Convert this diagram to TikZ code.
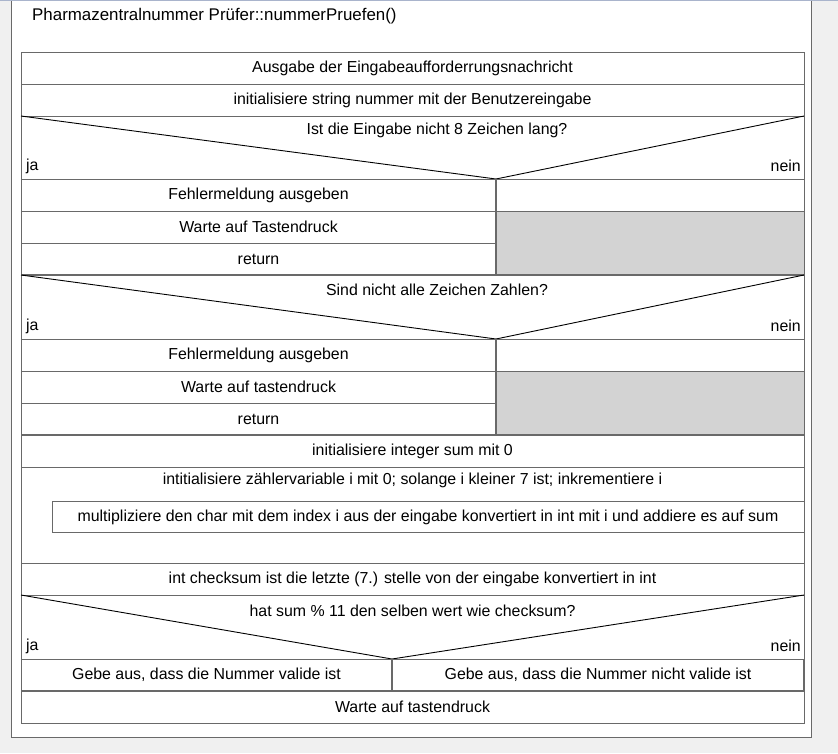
\documentclass[tikz,border=0pt]{standalone}
\usepackage{fontspec}
\setmainfont{Liberation Sans}
\begin{document}
\begin{tikzpicture}[x=1pt,y=-1pt,
  box/.style={draw=boxgray,line width=1pt},
  txt/.style={font=\fontsize{15.9}{18}\selectfont,inner sep=0pt,text=black},
  diag/.style={draw=black,line width=0.9pt},
  grayfill/.style={fill=cellgray,draw=boxgray,line width=1pt},
  split/.style={draw=boxgray,line width=1.8pt}]
\definecolor{boxgray}{HTML}{696969}
\definecolor{cellgray}{HTML}{D3D3D3}
\definecolor{bggray}{HTML}{F0F0F0}
\definecolor{topline}{HTML}{A9B4CC}
\useasboundingbox (0,0) rectangle (838,753);
\fill[bggray] (0,0) rectangle (838,753);
\fill[white] (11.5,0) rectangle (811,737);
\draw[box] (11.5,-2) -- (11.5,737) -- (811,737) -- (811,-2);
\draw[draw=topline,line width=1.5pt] (0,0.5) -- (838,0.5);
\node[txt,font=\fontsize{16.9}{19}\selectfont,anchor=west] (title) at (32,16) {Pharmazentralnummer Prüfer::nummerPruefen()};
% rows
\draw[box] (21,52) rectangle (804,84);
\node[txt] (r1) at (412.5,68) {Ausgabe der Eingabeaufforderrungsnachricht};
\draw[box] (21,84) rectangle (804,116);
\node[txt] (r2) at (412.5,100) {initialisiere string nummer mit der Benutzereingabe};
% decision 1
\draw[box] (21,116) rectangle (804,179);
\coordinate (d1l) at (21,116); \coordinate (d1r) at (804,116); \coordinate (d1v) at (496,179);
\draw[diag] (d1l) -- (d1v) -- (d1r);
\node[txt] (q1) at (437,130) {Ist die Eingabe nicht 8 Zeichen lang?};
\node[txt,anchor=west] (ja1) at (26,166) {ja};
\node[txt,anchor=east] (nein1) at (801,166) {nein};
\draw[box] (21,179) rectangle (496,211);
\node[txt] (a1) at (258.5,195) {Fehlermeldung ausgeben};
\draw[box] (21,211) rectangle (496,243);
\node[txt] (a2) at (258.5,227) {Warte auf Tastendruck};
\draw[box] (21,243) rectangle (496,275);
\node[txt] (a3) at (258.5,259) {return};
\draw[box] (496,179) rectangle (804,211);
\draw[grayfill] (496,211) rectangle (804,275);
\draw[split] (496,179) -- (496,275);
\draw[split] (21,275) -- (804,275);
% decision 2
\draw[box] (21,275) -- (21,339) -- (804,339) -- (804,275);
\coordinate (d2l) at (21,275); \coordinate (d2r) at (804,275); \coordinate (d2v) at (496,339);
\draw[diag] (d2l) -- (d2v) -- (d2r);
\node[txt] (q2) at (437,290) {Sind nicht alle Zeichen Zahlen?};
\node[txt,anchor=west] (ja2) at (26,326) {ja};
\node[txt,anchor=east] (nein2) at (801,326) {nein};
\draw[box] (21,339) rectangle (496,371);
\node[txt] (b1) at (258.5,355) {Fehlermeldung ausgeben};
\draw[box] (21,371) rectangle (496,403);
\node[txt] (b2) at (258.5,387) {Warte auf tastendruck};
\draw[box] (21,403) rectangle (496,435);
\node[txt] (b3) at (258.5,419) {return};
\draw[box] (496,339) rectangle (804,371);
\draw[grayfill] (496,371) rectangle (804,435);
\draw[split] (496,339) -- (496,435);
\draw[split] (21,435) -- (804,435);
% sum
\draw[box] (21,435) rectangle (804,467);
\node[txt] (s1) at (412.5,451) {initialisiere integer sum mit 0};
% loop
\draw[box] (21,467) rectangle (804,563);
\node[txt] (l1) at (412.5,480) {intitialisiere zählervariable i mit 0; solange i kleiner 7 ist; inkrementiere i};
\draw[box] (52,501) rectangle (804,532);
\node[txt] (l2) at (428,517) {multipliziere den char mit dem index i aus der eingabe konvertiert in int mit i und addiere es auf sum};
% checksum
\draw[box] (21,563) rectangle (804,595);
\node[txt] (c1) at (412.5,579) {int checksum ist die letzte (7.) stelle von der eingabe konvertiert in int};
% decision 3
\draw[box] (21,595) rectangle (804,659);
\coordinate (d3l) at (21,595); \coordinate (d3r) at (804,595); \coordinate (d3v) at (392,659);
\draw[diag] (d3l) -- (d3v) -- (d3r);
\node[txt] (q3) at (412.5,611) {hat sum \% 11 den selben wert wie checksum?};
\node[txt,anchor=west] (ja3) at (26,646) {ja};
\node[txt,anchor=east] (nein3) at (801,646) {nein};
\draw[box] (21,659) rectangle (392,691);
\node[txt] (e1) at (206.5,675) {Gebe aus, dass die Nummer valide ist};
\draw[box] (392,659) rectangle (804,691);
\node[txt] (e2) at (598,675) {Gebe aus, dass die Nummer nicht valide ist};
\draw[split] (392,659) -- (392,691);
\draw[split] (804,659) -- (804,691);
% last
\draw[box] (21,691) rectangle (804,723);
\draw[split] (21,691) -- (804,691);
\node[txt] (w1) at (412.5,707) {Warte auf tastendruck};
\end{tikzpicture}
\end{document}
